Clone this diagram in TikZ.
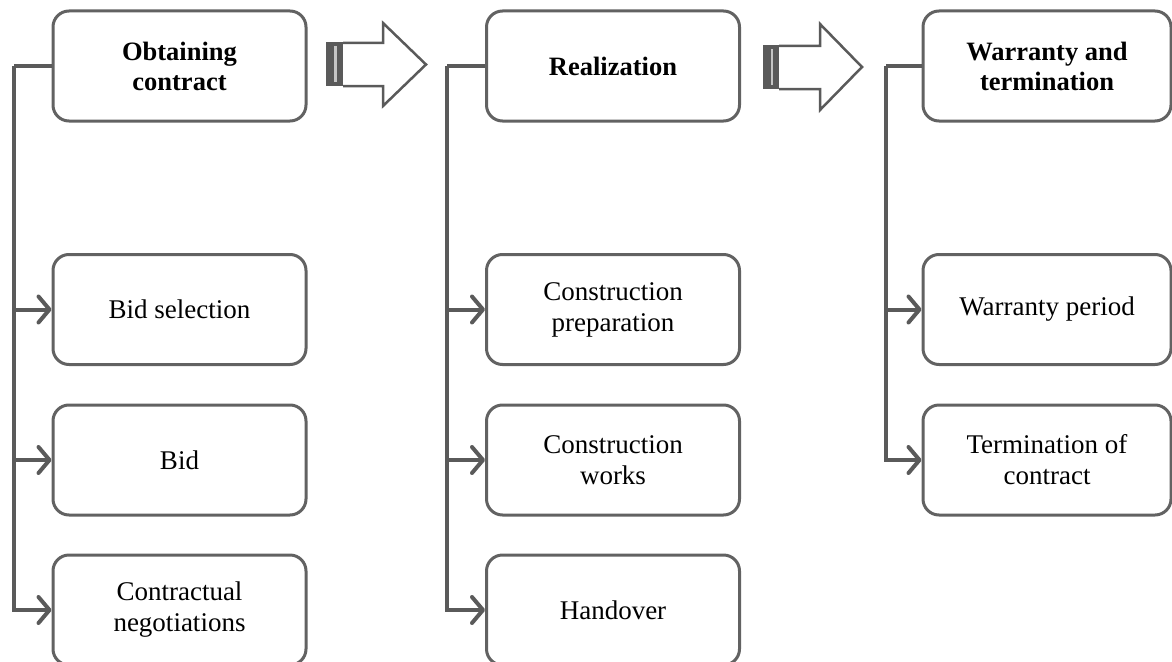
\documentclass[tikz,border=0pt]{standalone}
\usepackage{fontspec}
\setmainfont{Liberation Serif}
\usetikzlibrary{arrows.meta}
\definecolor{linegray}{HTML}{5A5A5A}
\definecolor{boxgray}{HTML}{626262}
\tikzset{
  box/.style={draw=boxgray, line width=3pt, rounded corners=16pt, fill=white,
    minimum width=253pt, minimum height=110pt, align=center, inner sep=0pt,
    font=\fontsize{27}{31}\selectfont},
  headbox/.style={box, font=\fontsize{26.5}{30}\selectfont\bfseries},
  spine/.style={draw=linegray, line width=4pt},
  arr/.style={spine, -{Straight Barb[length=11pt, width=26pt, line width=4pt, round]}},
  bigarrow/.style={draw=linegray, line width=2.5pt, fill=white, line join=miter},
  darkbar/.style={fill=linegray, draw=none},
  stripe/.style={fill=gray!45, draw=none}
}
\begin{document}
\begin{tikzpicture}[x=1pt, y=-1pt]
\useasboundingbox (0,0) rectangle (1172,661);
% column 1
\node[headbox] (h1) at (179.5,66) {Obtaining\\contract};
\node[box] (c11) at (179.5,309.5) {Bid selection};
\node[box] (c12) at (179.5,460) {Bid};
\node[box] (c13) at (179.5,610) {Contractual\\negotiations};
% column 2
\node[headbox] (h2) at (613,66) {Realization};
\node[box] (c21) at (613,309.5) {Construction\\preparation};
\node[box] (c22) at (613,460) {Construction\\works};
\node[box] (c23) at (613,610) {Handover};
% column 3
\node[headbox, minimum width=248pt] (h3) at (1047,66) {Warranty and\\termination};
\node[box, minimum width=248pt] (c31) at (1047,309.5) {Warranty period};
\node[box, minimum width=248pt] (c32) at (1047,460) {Termination of\\contract};
% spines
\coordinate (s1) at (14,66);
\coordinate (s2) at (447,66);
\coordinate (s3) at (886,66);
\draw[spine] (h1.west) -- (s1);
\draw[arr] (s1) |- (c11.west);
\draw[arr] (s1) |- (c12.west);
\draw[arr] (s1) |- (c13.west);
\draw[spine] (h2.west) -- (s2);
\draw[arr] (s2) |- (c21.west);
\draw[arr] (s2) |- (c22.west);
\draw[arr] (s2) |- (c23.west);
\draw[spine] (h3.west) -- (s3);
\draw[arr] (s3) |- (c31.west);
\draw[arr] (s3) |- (c32.west);
% block arrows
\fill[darkbar] (326,42) rectangle (343,86);
\fill[stripe] (334,46) rectangle (336.5,82);
\draw[bigarrow] (343,43) -- (383,43) -- (383,23) -- (426,64.5) -- (383,106) -- (383,86) -- (343,86);
\fill[darkbar] (763,45) rectangle (779,89);
\fill[stripe] (770.5,49) rectangle (773,85);
\draw[bigarrow] (779,46) -- (820,46) -- (820,24) -- (862,67) -- (820,110) -- (820,89) -- (779,89);
\end{tikzpicture}
\end{document}
